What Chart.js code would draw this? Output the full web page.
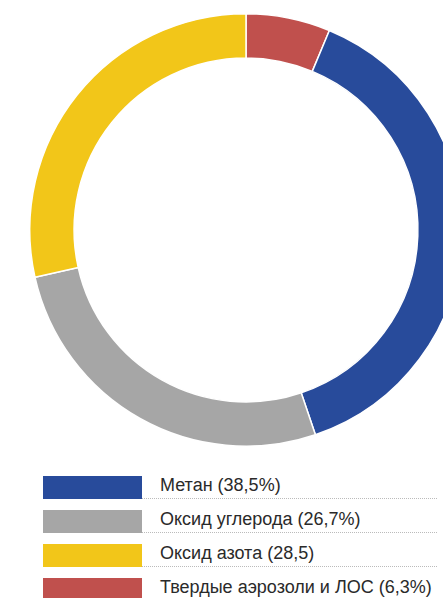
<!DOCTYPE html>
<html>
<head>
<meta charset="utf-8">
<script src="https://cdn.jsdelivr.net/npm/chart.js@4/dist/chart.umd.min.js"></script>
<style>
  html, body { margin: 0; padding: 0; background: #fff; overflow: hidden; width: 443px; height: 598px; }
  #wrap { position: absolute; left: 0; top: 0; width: 492px; height: 460px; }
  #legend { position: absolute; left: 43px; top: 476px; width: 394px; font-family: "Liberation Sans", Arial, sans-serif; font-size: 18px; color: #2a2a2a; }
  .row { position: relative; height: 34px; }
  .sw { position: absolute; left: 0; top: 0; width: 99px; height: 23px; }
  .lbl { position: absolute; left: 99px; top: 0; width: 295px; height: 22px; border-bottom: 1px dotted #bbb; }
  .lbl span { position: absolute; left: 18px; top: -1px; line-height: 21px; white-space: nowrap; }
</style>
</head>
<body>
<div id="wrap"><canvas id="my-chart"></canvas></div>
<div id="legend"></div>
<script>
// slices in drawing order, clockwise from 12 o'clock
const sliceNames = ['Твердые аэрозоли и ЛОС', 'Метан', 'Оксид углерода', 'Оксид азота'];
const sliceValues = [6.3, 38.5, 26.7, 28.5];
const sliceColors = ['#c0504d', '#284b9b', '#a6a6a6', '#f2c619'];

// legend order and text as printed under the chart
const legendOrder = [1, 2, 3, 0];
const legendTexts = ['Метан (38,5%)', 'Оксид углерода (26,7%)', 'Оксид азота (28,5)', 'Твердые аэрозоли и ЛОС (6,3%)'];

const ctx = document.getElementById('my-chart').getContext('2d');
const chart = new Chart(ctx, {
  type: 'doughnut',
  data: {
    labels: sliceNames,
    datasets: [{
      data: sliceValues,
      backgroundColor: sliceColors,
      borderColor: '#fff',
      borderWidth: 1.5
    }]
  },
  options: {
    responsive: true,
    maintainAspectRatio: false,
    animation: false,
    cutout: '79.5%',
    layout: { padding: { top: 13, bottom: 13 } },
    plugins: { legend: { display: false }, tooltip: { enabled: false } }
  }
});

// build the legend from the arrays
const legendBox = document.getElementById('legend');
legendOrder.forEach((idx, i) => {
  const row = document.createElement('div');
  row.className = 'row';
  const last = i === legendOrder.length - 1;
  row.innerHTML = '<div class="sw" style="background:' + sliceColors[idx] + '"></div>' +
    '<div class="lbl"' + (last ? ' style="border-bottom:none"' : '') + '><span>' + legendTexts[i] + '</span></div>';
  legendBox.appendChild(row);
});
</script>
</body>
</html>
